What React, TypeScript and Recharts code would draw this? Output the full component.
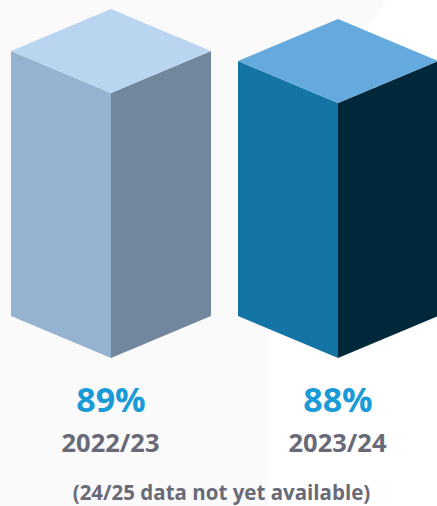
import { BarChart, Bar, XAxis, YAxis, LabelList } from 'recharts'

const years = ['2022/23', '2023/24']
const shares = [89, 88]
const valueLabels = ['89%', '88%']
const footnote = '(24/25 data not yet available)'

const topColors = ['#bad5f0', '#64aade']
const leftColors = ['#95b3d1', '#1474a6']
const rightColors = ['#72879c', '#00273a']

const data = years.map((year, i) => ({ year, share: shares[i], label: valueLabels[i], idx: i }))

const DEPTH = 42
const FONT = '"Open Sans", "Noto Sans", sans-serif'

// isometric box drawn inside the bar's rect
const Box = (props: any) => {
  const { x, y, width, height, payload } = props
  const i = payload.idx
  const cx = x + width / 2
  const r = x + width
  const b = y + height
  const top = `M${x},${y + DEPTH} L${cx},${y} L${r},${y + DEPTH} L${cx},${y + 2 * DEPTH} Z`
  const left = `M${x},${y + DEPTH} L${cx},${y + 2 * DEPTH} L${cx},${b} L${x},${b - DEPTH} Z`
  const right = `M${cx},${y + 2 * DEPTH} L${r},${y + DEPTH} L${r},${b - DEPTH} L${cx},${b} Z`
  return (
    <g>
      <path d={left} fill={leftColors[i]} />
      <path d={right} fill={rightColors[i]} />
      <path d={top} fill={topColors[i]} />
    </g>
  )
}

const ValueLabel = (props: any) => {
  const { x, y, width, height, value } = props
  return (
    <text x={x + width / 2} y={y + height + 54} textAnchor="middle" fill="#1a9ad6"
      fontFamily={FONT} fontWeight={700} fontSize={34}>
      {value}
    </text>
  )
}

const YearTick = (props: any) => {
  const { x, y, payload } = props
  return (
    <text x={x} y={y + 86} textAnchor="middle" fill="#696a78"
      fontFamily={FONT} fontWeight={700} fontSize={25.5}>
      {payload.value}
    </text>
  )
}

export default function App() {
  return (
    <div style={{ position: 'fixed', left: 0, top: 0, width: 437, height: 506, overflow: 'hidden', background: '#fafafa' }}>
      <svg width={437} height={506} style={{ position: 'absolute', left: 0, top: 0 }}>
        <path d="M388,0 Q268,130 268,300 L268,506 L437,506 L437,0 Z" fill="#ffffff" />
      </svg>
      <div style={{ position: 'absolute', left: -3.5, top: 0 }}>
        <BarChart width={454} height={506} data={data} margin={{ top: 9, right: 0, bottom: 0, left: 0 }}
          barCategoryGap={0}>
          <XAxis dataKey="year" height={148} axisLine={false} tickLine={false} tick={<YearTick />} interval={0} />
          <YAxis hide domain={[54, 89]} allowDataOverflow />
          <Bar dataKey="share" barSize={200} shape={<Box />} isAnimationActive={false}>
            <LabelList dataKey="label" content={<ValueLabel />} />
          </Bar>
        </BarChart>
      </div>
      <div style={{ position: 'absolute', left: 0, width: 443, top: 479, textAlign: 'center', color: '#696a78',
        fontFamily: FONT, fontWeight: 700, fontSize: 20.5, lineHeight: '26px' }}>
        {footnote}
      </div>
    </div>
  )
}
